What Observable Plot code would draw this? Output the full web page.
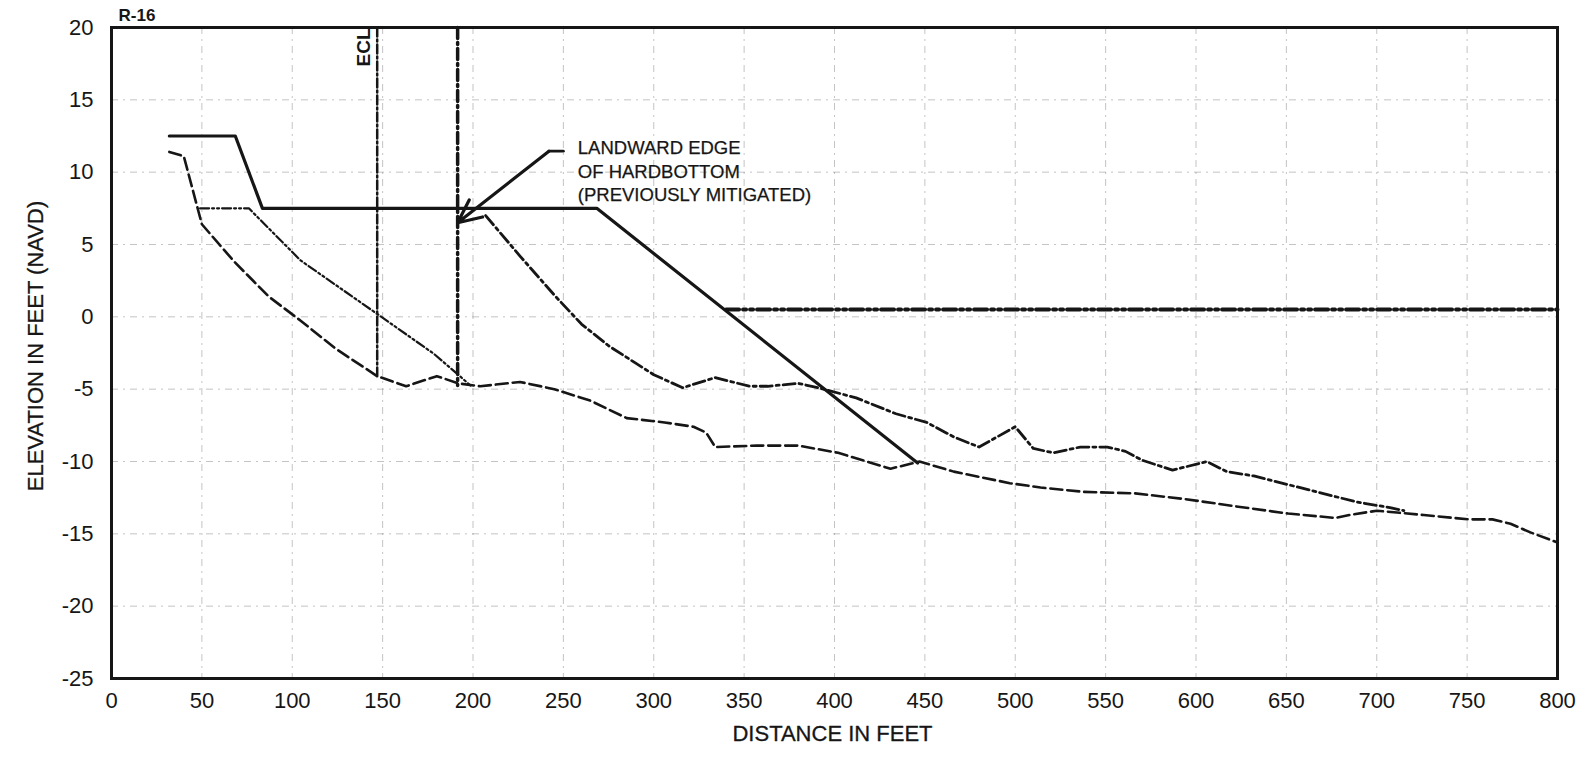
<!DOCTYPE html>
<html>
<head>
<meta charset="utf-8">
<script src="https://cdn.jsdelivr.net/npm/d3@7"></script>
<script src="https://cdn.jsdelivr.net/npm/@observablehq/plot@0.6"></script>
<style>
  html, body { margin: 0; padding: 0; background: #fff; }
  #chart svg { display: block; }
</style>
</head>
<body>
<div id="chart"></div>
<script>
// ---- tick labels / grid ----
const xTickValues = [0, 50, 100, 150, 200, 250, 300, 350, 400, 450, 500, 550, 600, 650, 700, 750, 800];
const yTickValues = [-25, -20, -15, -10, -5, 0, 5, 10, 15, 20];
const xGridValues = [50, 100, 150, 200, 250, 300, 350, 400, 450, 500, 550, 600, 650, 700, 750];
const yGridValues = [-20, -15, -10, -5, 0, 5, 10, 15];

// ---- design template (solid) ----
const designX = [32, 68.5, 83.5, 268.5, 446];
const designY = [12.5, 12.5, 7.5, 7.5, -10.1];

// ---- profile A (long dash) ----
const profileAX = [32, 40, 50, 68, 87, 105, 124, 147, 163, 180, 192, 204, 226, 245, 265, 285, 306, 322, 329, 334, 357, 380, 402, 431, 447, 466, 497, 514, 538, 566, 594, 622, 651, 677, 685, 700, 726, 751, 764, 774, 785, 800];
const profileAY = [11.4, 11.1, 6.4, 3.8, 1.4, -0.3, -2.2, -4.1, -4.8, -4.1, -4.6, -4.8, -4.5, -5.0, -5.8, -7.0, -7.3, -7.6, -8.0, -9.0, -8.9, -8.9, -9.4, -10.5, -10.0, -10.7, -11.5, -11.8, -12.1, -12.2, -12.6, -13.1, -13.6, -13.9, -13.7, -13.4, -13.7, -14.0, -14.0, -14.3, -14.9, -15.6];

// ---- profile B (dash-dot) ----
const profileBX = [207, 226, 245, 260, 275, 290, 300, 316, 334, 353, 363, 380, 391, 412, 434, 451, 466, 480, 500, 510, 521, 536, 551, 561, 570, 587, 606, 617, 632, 651, 670, 689, 708, 715];
const profileBY = [7.0, 4.2, 1.5, -0.5, -2.0, -3.2, -4.0, -4.9, -4.2, -4.8, -4.8, -4.6, -4.9, -5.6, -6.7, -7.3, -8.3, -9.0, -7.6, -9.1, -9.4, -9.0, -9.0, -9.3, -9.9, -10.6, -10.0, -10.7, -11.0, -11.6, -12.2, -12.8, -13.2, -13.4];

// ---- profile C (dash-dot-dot) ----
const profileCX = [49, 76, 104.6, 147, 178.3, 191.3, 198.6];
const profileCY = [7.5, 7.5, 3.9, 0.2, -2.55, -3.94, -4.75];

// ---- horizontal dash-dot line ----
const levelX = [340, 800];
const levelY = [0.5, 0.5];

// ---- vertical lines ----
const eclX = [147, 147];
const eclY = [20, -4.1];
const edgeX = [191.5, 191.5];
const edgeY = [20, -4.75];

// ---- annotation ----
const leaderX = [250, 242];
const leaderY = [11.45, 11.45];
const arrowFrom = [242, 11.45];
const arrowTo = [191.5, 6.5];
const noteLines = ["LANDWARD EDGE", "OF HARDBOTTOM", "(PREVIOUSLY MITIGATED)"];
const noteX = 258;
const noteY = [11.65, 10.0, 8.4];

const pts = (xs, ys) => xs.map((x, i) => ({x, y: ys[i]}));
const ink = "#161616";
const font = "'Liberation Sans', Arial, Helvetica, sans-serif";

const chart = Plot.plot({
  width: 1585,
  height: 759,
  marginLeft: 111,
  marginRight: 28,
  marginTop: 27,
  marginBottom: 81,
  style: {fontFamily: font, background: "#fff", color: ink},
  x: {domain: [0, 800]},
  y: {domain: [-25, 20]},
  marks: [
    Plot.gridX(xGridValues, {stroke: "#8a8a8a", strokeOpacity: 0.5, strokeWidth: 1, strokeDasharray: "7,5,2,5"}),
    Plot.gridY(yGridValues, {stroke: "#8a8a8a", strokeOpacity: 0.5, strokeWidth: 1, strokeDasharray: "7,5,2,5"}),
    Plot.axisX(xTickValues, {tickSize: 0, tickPadding: 14, fontSize: 22, label: null, tickFormat: d => String(d), fill: ink, stroke: ink, strokeWidth: 0.35}),
    Plot.axisY(yTickValues, {tickSize: 0, tickPadding: 18, fontSize: 22, label: null, tickFormat: d => String(d), fill: ink, stroke: ink, strokeWidth: 0.35}),
    // vertical lines
    Plot.line(pts(eclX, eclY), {x: "x", y: "y", stroke: ink, strokeWidth: 2.5, strokeDasharray: "9,3,2,3"}),
    Plot.line(pts(edgeX, edgeY), {x: "x", y: "y", stroke: ink, strokeWidth: 3.5, strokeDasharray: "11,4,2,4"}),
    // profiles
    Plot.line(pts(profileAX, profileAY), {x: "x", y: "y", stroke: ink, strokeWidth: 2.6, strokeDasharray: "12,5"}),
    Plot.line(pts(profileBX, profileBY), {x: "x", y: "y", stroke: ink, strokeWidth: 2.8, strokeDasharray: "12,4,3,4"}),
    Plot.line(pts(profileCX, profileCY), {x: "x", y: "y", stroke: ink, strokeWidth: 2.2, strokeDasharray: "9,3,2,3,2,3"}),
    Plot.line(pts(levelX, levelY), {x: "x", y: "y", stroke: ink, strokeWidth: 4, strokeDasharray: "13,4,3,4,3,4"}),
    // design template
    Plot.line(pts(designX, designY), {x: "x", y: "y", stroke: ink, strokeWidth: 3.2}),
    // annotation leader
    Plot.line(pts(leaderX, leaderY), {x: "x", y: "y", stroke: ink, strokeWidth: 2.8}),
    Plot.arrow([{x1: arrowFrom[0], y1: arrowFrom[1], x2: arrowTo[0], y2: arrowTo[1]}],
      {x1: "x1", y1: "y1", x2: "x2", y2: "y2", stroke: ink, strokeWidth: 3.2, headLength: 12, headAngle: 50}),
    Plot.text(noteLines.map((t, i) => ({t, y: noteY[i]})),
      {x: () => noteX, y: "y", text: "t", textAnchor: "start", lineAnchor: "middle", fontSize: 18.5, fill: ink, stroke: ink, strokeWidth: 0.25}),
    // ECL label
    Plot.text([{x: 139.5, y: 20, t: "ECL"}],
      {x: "x", y: "y", text: "t", rotate: -90, textAnchor: "end", lineAnchor: "middle", dy: 1, fontSize: 19, fontWeight: "bold", fill: ink}),
    // R-16
    Plot.text(["R-16"], {frameAnchor: "top-left", dx: 7, dy: -12, textAnchor: "start", lineAnchor: "middle", fontSize: 17, fontWeight: "bold", fill: ink}),
    // axis titles
    Plot.text(["ELEVATION IN FEET (NAVD)"], {frameAnchor: "left", dx: -76, dy: -7, rotate: -90, textAnchor: "middle", lineAnchor: "middle", fontSize: 22, fill: ink, stroke: ink, strokeWidth: 0.3}),
    Plot.text(["DISTANCE IN FEET"], {frameAnchor: "bottom", dx: -2, dy: 55, textAnchor: "middle", lineAnchor: "middle", fontSize: 22, fill: ink, stroke: ink, strokeWidth: 0.3}),
    Plot.frame({stroke: ink, strokeWidth: 3})
  ]
});
document.getElementById("chart").appendChild(chart);
</script>
</body>
</html>
